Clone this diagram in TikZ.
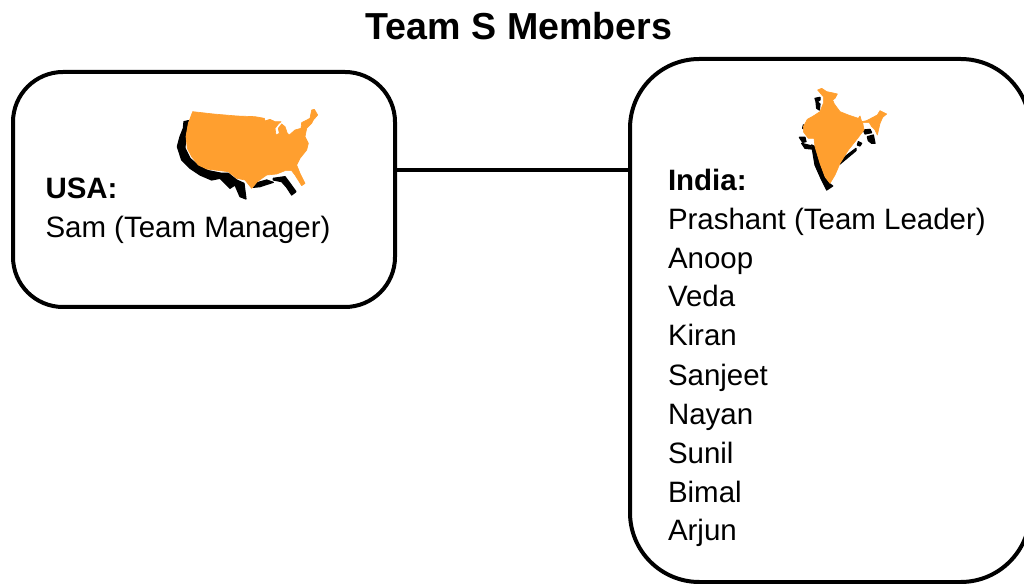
\documentclass[tikz,border=0pt]{standalone}
\usepackage{fontspec}
\setmainfont{Liberation Sans}
\definecolor{maporange}{HTML}{FF9F2F}
\tikzset{
  teambox/.style={draw=black,line width=3pt,fill=white,rounded corners=#1},
  link/.style={draw=black,line width=3pt},
  lbl/.style={anchor=base west,inner sep=0pt,outer sep=0pt,font=\fontsize{22.1pt}{26pt}\selectfont},
  lblb/.style={lbl,font=\fontsize{22.1pt}{26pt}\selectfont\bfseries},
  heading/.style={anchor=base,inner sep=0pt,font=\fontsize{28.2pt}{32pt}\selectfont\bfseries},
  land/.style={fill=maporange,draw=maporange,line width=0.5pt,line join=round},
  shade/.style={fill=black,draw=black,line width=0.9pt,line join=round}
}
\begin{document}
\begin{tikzpicture}[x=0.75pt,y=-0.75pt]
\useasboundingbox (0,0) rectangle (1024,584);
\node[heading] (title) at (519,39.5) {Team S Members};
\coordinate (ua) at (13,72); \coordinate (ub) at (395,307);
\coordinate (ia) at (630,59); \coordinate (ib) at (1030,582);
\draw[teambox=37.5pt] (ua) rectangle (ub);
\draw[teambox=52pt] (ia) rectangle (ib);
\coordinate (lA) at (395,170); \coordinate (lB) at (630,170);
\draw[link] (lA) -- (lB);
% USA map
\begin{scope}[shift={(170,100)},x=0.25pt,y=-0.25pt]
\path[shade] (42,65)--(55,62)--(47,105)--(45,145)--(60,175)--(85,197)--(115,212)--(155,220)--(175,220)--(200,240)--(222,250)--(228,297)--(210,290)--(195,255)--(180,265)--(165,250)--(150,235)--(125,240)--(90,225)--(60,205)--(35,180)--(22,140)--(30,110)--(40,85)--cycle;
\path[shade] (310,235)--(345,230)--(360,250)--(378,275)--(365,285)--(350,262)--(335,245)--(310,240)--cycle;
\path[shade] (250,262)--(262,248)--(290,240)--(310,247)--(285,255)--(270,260)--cycle;
\path[land] (68,35)--(130,42)--(200,48)--(255,50)--(283,55)--(285,63)--(300,58)--(315,65)--(333,65)--(325,72)--(315,85)--(318,105)--(328,100)--(325,85)--(335,72)--(345,80)--(352,100)--(358,105)--(375,90)--(393,85)--(395,68)--(420,55)--(425,30)--(433,28)--(443,45)--(430,60)--(425,70)--(410,85)--(405,110)--(415,130)--(410,150)--(390,175)--(380,195)--(390,220)--(405,250)--(395,257)--(375,225)--(365,212)--(345,212)--(320,222)--(290,225)--(262,245)--(245,265)--(225,240)--(200,235)--(175,215)--(150,212)--(110,207)--(85,195)--(65,170)--(52,145)--(48,110)--(55,70)--cycle;
\end{scope}
% India map
\begin{scope}[shift={(790,80)},x=0.25pt,y=-0.25pt]
\path[shade] (75,55)--(90,52)--(90,60)--(82,65)--(90,72)--(88,90)--(80,85)--(78,65)--cycle;
\path[shade] (40,135)--(50,138)--(45,148)--(38,145)--cycle;
\path[shade] (28,172)--(45,172)--(48,185)--(38,187)--cycle;
\path[shade] (65,195)--(75,200)--(90,255)--(105,295)--(120,312)--(128,318)--(110,330)--(95,300)--(75,255)--cycle;
\path[shade] (35,190)--(62,197)--(65,207)--(45,205)--cycle;
\path[shade] (145,245)--(198,205)--(198,212)--(150,252)--cycle;
\path[shade] (205,185)--(215,190)--(210,198)--(202,195)--cycle;
\path[shade] (220,150)--(240,148)--(245,158)--(225,162)--cycle;
\path[shade] (232,170)--(250,165)--(255,190)--(245,190)--(235,182)--cycle;
\path[land] (83,30)--(95,25)--(110,35)--(125,38)--(142,42)--(135,55)--(128,60)--(133,72)--(150,95)--(175,105)--(205,115)--(210,108)--(215,125)--(230,122)--(262,105)--(270,92)--(290,102)--(278,112)--(270,130)--(262,165)--(255,150)--(245,140)--(238,128)--(218,128)--(222,150)--(195,185)--(175,210)--(150,250)--(135,285)--(120,310)--(105,290)--(90,250)--(75,200)--(72,175)--(55,175)--(40,155)--(40,140)--(52,118)--(70,108)--(90,95)--(100,70)--(100,50)--cycle;
\end{scope}
% labels
\node[lblb] (usa) at (45.5,199) {USA:};
\node[lbl] (sam) at (45.5,238) {Sam (Team Manager)};
\node[lblb] (india) at (668,191) {India:};
\node[lbl] (n1) at (668,230) {Prashant (Team Leader)};
\node[lbl] (n2) at (668,269) {Anoop};
\node[lbl] (n3) at (668,307) {Veda};
\node[lbl] (n4) at (668,346) {Kiran};
\node[lbl] (n5) at (668,385) {Sanjeet};
\node[lbl] (n6) at (668,424) {Nayan};
\node[lbl] (n7) at (668,463) {Sunil};
\node[lbl] (n8) at (668,502) {Bimal};
\node[lbl] (n9) at (668,540) {Arjun};
\end{tikzpicture}
\end{document}
